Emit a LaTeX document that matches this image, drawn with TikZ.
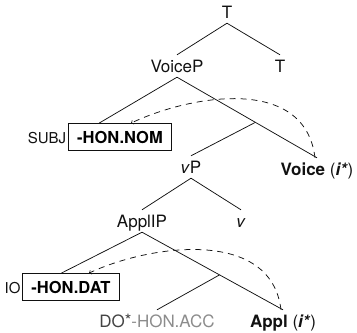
\documentclass[tikz,border=0pt]{standalone}
\usepackage{fontspec}
\setmainfont{TeX Gyre Heros}
\usepackage{xcolor}
\usepackage{tikz}
\usetikzlibrary{calc}
\definecolor{ink}{HTML}{111111}
\definecolor{dimink}{HTML}{444444}
\definecolor{faint}{HTML}{8C8C8C}
\tikzset{
  br/.style={draw=ink, line width=0.75bp},
  mv/.style={draw=ink, line width=0.75bp, dashed, dash pattern=on 6bp off 5bp, ->},
  lab/.style={text=ink, font=\fontsize{17bp}{20bp}\selectfont, text height=12bp, text depth=0bp, inner sep=5bp, anchor=base},
  sub/.style={text=ink, font=\fontsize{15bp}{18bp}\selectfont, inner sep=1.5bp, anchor=base east},
  feat/.style={draw=ink, line width=0.75bp, font=\fontsize{16.5bp}{19bp}\bfseries\selectfont, text height=12bp, text depth=0bp, inner xsep=9bp, inner ysep=7.5bp, anchor=base}
}

\begin{document}
\begin{tikzpicture}[x=1bp, y=-1bp]
  \useasboundingbox (0,0) rectangle (357,333);

  \node[lab] (t1) at (227,18) {T};
  \node[lab] (voicep) at (177,72) {VoiceP};
  \node[lab] (t2) at (280,72) {T};
  \node[feat] (nom) at (120,143) {-HON.NOM};
  \node[sub] (subj) at (nom.base west) {SUBJ};
  \node[lab] (voice) at (317,175) {\textbf{Voice} (\textbf{\textit{i*}})};
  \node[lab] (vp) at (191,173) {\textit{v}P};
  \node[lab] (applp) at (142,227) {ApplIP};
  \node[lab] (v) at (241,227) {\textit{v}};
  \node[feat] (dat) at (71,293) {-HON.DAT};
  \node[sub] (io) at (dat.base west) {IO};
  \node[lab] (do) at (157,327) {\textcolor{dimink}{DO\raisebox{1bp}{*}}\textcolor{faint}{-HON.ACC}};
  \node[lab] (appl) at (283,327) {\textbf{Appl} (\textbf{\textit{i*}})};

  \coordinate (subjmid) at ($(subj.west)!.5!(nom.east)$);
  \coordinate (iomid) at ($(io.west)!.5!(dat.east)$);
  \coordinate (vbar) at ($(voicep.south)!.56!(voice.north)$);
  \coordinate (abar) at ($(applp.south)!.55!(appl.north)$);

  \draw[br] (t1.south) -- (voicep.north);
  \draw[br] (t1.south) -- (t2.north);
  \draw[br] (voicep.south) -- (subjmid |- nom.north);
  \draw[br] (voicep.south) -- (voice.north);
  \draw[br] (vbar) -- (vp.north);
  \draw[br] (vp.south) -- (applp.north);
  \draw[br] (vp.south) -- (v.north);
  \draw[br] (applp.south) -- (iomid |- dat.north);
  \draw[br] (applp.south) -- (appl.north);
  \draw[br] (abar) -- (do.north);

  \draw[mv] ([xshift=-2bp]voice.north) .. controls +(-10,-83) and +(59,-28) .. ([xshift=11bp]nom.north);
  \draw[mv] ([xshift=-2bp]appl.north) .. controls +(-10,-83) and +(59,-28) .. ([xshift=18bp]dat.north);
\end{tikzpicture}
\end{document}
